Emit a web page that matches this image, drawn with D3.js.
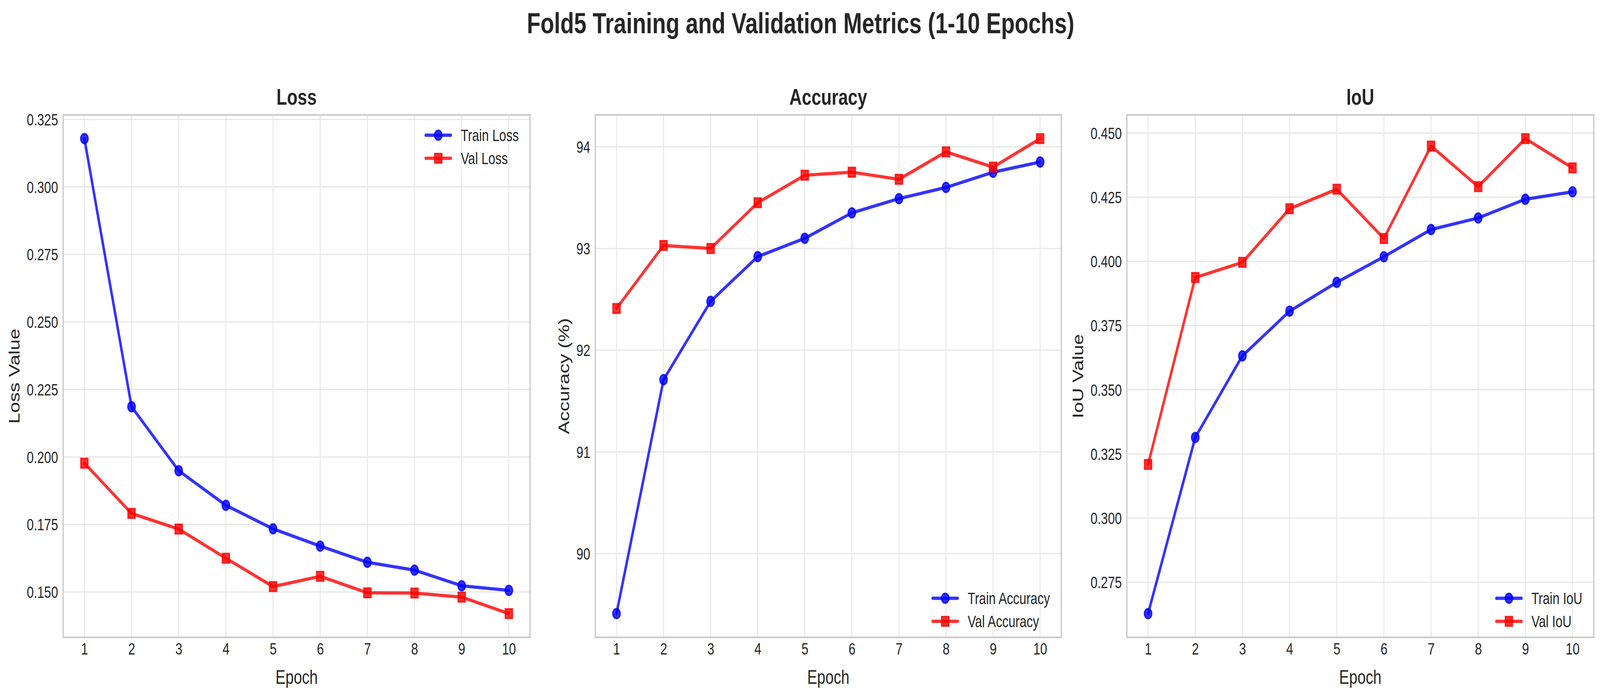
<!DOCTYPE html>
<html><head><meta charset="utf-8">
<script src="https://cdn.jsdelivr.net/npm/d3@7"></script>
<style>
html,body{margin:0;padding:0;background:#fff;width:100%;height:100%;overflow:hidden}
#chart{display:block;width:100vw;height:100vh}
svg text{font-family:"Liberation Sans",Arial,"DejaVu Sans",sans-serif;fill:#262626}
</style>
</head><body>
<svg id="chart" viewBox="0 0 5370 1776" preserveAspectRatio="none"></svg>
<script>
// ---------- data ----------
const epochs = [1,2,3,4,5,6,7,8,9,10];
const trainLoss = [0.3179,0.2186,0.1949,0.1821,0.1734,0.1670,0.1610,0.1581,0.1523,0.1506];
const valLoss   = [0.1977,0.1791,0.1733,0.1625,0.1520,0.1558,0.1497,0.1496,0.1481,0.1420];
const trainAcc  = [89.41,91.71,92.48,92.92,93.10,93.35,93.49,93.60,93.75,93.85];
const valAcc    = [92.41,93.03,93.00,93.45,93.72,93.75,93.68,93.95,93.80,94.08];
const trainIoU  = [0.2628,0.3314,0.3632,0.3806,0.3918,0.4018,0.4124,0.4169,0.4242,0.4271];
const valIoU    = [0.3209,0.3937,0.3996,0.4205,0.4281,0.4089,0.4449,0.4291,0.4478,0.4364];
const lossTicks = [0.150,0.175,0.200,0.225,0.250,0.275,0.300,0.325];
const accTicks  = [90,91,92,93,94];
const iouTicks  = [0.275,0.300,0.325,0.350,0.375,0.400,0.425,0.450];
const mainTitle = "Fold5 Training and Validation Metrics (1-10 Epochs)";

// ---------- layout ----------
const svg = d3.select("#chart");
const TOP = 294, BOTTOM = 1631;
const panels = [
  {title:"Loss", ylabel:"Loss Value", left:212, right:1779, ylabX:48, train:trainLoss, val:valLoss,
   names:["Train Loss","Val Loss"], ticks:lossTicks, fmt:d3.format(".3f"), legend:"top"},
  {title:"Accuracy", ylabel:"Accuracy (%)", left:1998, right:3562, ylabX:1892, train:trainAcc, val:valAcc,
   names:["Train Accuracy","Val Accuracy"], ticks:accTicks, fmt:d3.format("d"), legend:"bottom"},
  {title:"IoU", ylabel:"IoU Value", left:3782, right:5349, ylabX:3618, train:trainIoU, val:valIoU,
   names:["Train IoU","Val IoU"], ticks:iouTicks, fmt:d3.format(".3f"), legend:"bottom"}
];

const BLUE = "#0000ff", RED = "#ff0000";
const circleSym = d3.symbol().type(d3.symbolCircle).size(Math.PI*12.5*12.5);
const squareSym = d3.symbol().type(d3.symbolSquare).size(24*24);

svg.append("text").attr("x", 2687).attr("y", 85).attr("text-anchor","middle")
  .style("font-size","75px").style("font-weight","bold").text(mainTitle);

panels.forEach(p => {
  const all = p.train.concat(p.val);
  const mn = d3.min(all), mx = d3.max(all), r = mx - mn;
  const x = d3.scaleLinear().domain([1 - 0.45, 10 + 0.45]).range([p.left, p.right]);
  const y = d3.scaleLinear().domain([mn - 0.05*r, mx + 0.05*r]).range([BOTTOM, TOP]);
  const g = svg.append("g");

  // grid
  g.append("g").selectAll("line").data(epochs).join("line")
    .attr("x1", d=>x(d)).attr("x2", d=>x(d)).attr("y1", TOP).attr("y2", BOTTOM)
    .attr("stroke","#e8e8e8").attr("stroke-width",3.3);
  g.append("g").selectAll("line").data(p.ticks).join("line")
    .attr("x1", p.left).attr("x2", p.right).attr("y1", d=>y(d)).attr("y2", d=>y(d))
    .attr("stroke","#e8e8e8").attr("stroke-width",3.3);

  // axes (tick labels via d3 axes)
  const xAxis = g.append("g").attr("transform",`translate(0,${BOTTOM})`)
    .call(d3.axisBottom(x).tickValues(epochs).tickSize(0).tickPadding(44).tickFormat(d3.format("d")));
  const yAxis = g.append("g").attr("transform",`translate(${p.left},0)`)
    .call(d3.axisLeft(y).tickValues(p.ticks).tickSize(0).tickPadding(17).tickFormat(p.fmt));
  [xAxis, yAxis].forEach(a => {
    a.select(".domain").remove();
    a.selectAll("text").style("font-size","42px").attr("fill","#262626");
  });
  xAxis.selectAll("text").attr("dy", null).attr("y", 44);
  yAxis.selectAll("text").attr("dy","0.35em");

  // frame
  g.append("rect").attr("x",p.left).attr("y",TOP).attr("width",p.right-p.left).attr("height",BOTTOM-TOP)
    .attr("fill","none").attr("stroke","#cccccc").attr("stroke-width",4.5);

  // titles & labels
  g.append("text").attr("x",(p.left+p.right)/2).attr("y",268).attr("text-anchor","middle")
    .style("font-size","58px").style("font-weight","bold").text(p.title);
  g.append("text").attr("x",(p.left+p.right)/2).attr("y",1750).attr("text-anchor","middle")
    .style("font-size","50px").text("Epoch");
  g.append("text").attr("transform",`translate(${p.ylabX+18},${(TOP+BOTTOM)/2}) rotate(-90)`)
    .attr("text-anchor","middle").style("font-size","50px").text(p.ylabel);

  // series
  const line = d3.line().x((d,i)=>x(epochs[i])).y(d=>y(d));
  const series = [
    {vals:p.train, color:BLUE, sym:circleSym, name:p.names[0]},
    {vals:p.val, color:RED, sym:squareSym, name:p.names[1]}
  ];
  series.forEach(s => {
    const sg = g.append("g");
    sg.append("path").attr("d", line(s.vals)).attr("fill","none").attr("stroke",s.color)
      .attr("stroke-opacity",0.8).attr("stroke-width",8.3).attr("stroke-linejoin","round").attr("stroke-linecap","round");
    sg.selectAll("path.m").data(s.vals).join("path").attr("class","m")
      .attr("d", s.sym).attr("transform",(d,i)=>`translate(${x(epochs[i])},${y(d)})`)
      .attr("fill",s.color).attr("fill-opacity",0.8).attr("stroke",s.color).attr("stroke-opacity",0.8).attr("stroke-width",4.2);
  });

  // legend
  const rowY = p.legend === "top" ? [346, 405] : [1531, 1590];
  const lg = g.append("g");
  series.forEach((s, k) => {
    const t = lg.append("text").attr("y", rowY[k] + 15).style("font-size","42px").text(s.name);
    s.t = t;
  });
  const maxW = d3.max(series, s => s.t.node().getComputedTextLength());
  const textX = p.right - 38 - maxW;
  series.forEach((s, k) => {
    s.t.attr("x", textX);
    const x1 = textX - 33.6 - 84, x2 = textX - 33.6;
    lg.append("line").attr("x1",x1).attr("x2",x2).attr("y1",rowY[k]).attr("y2",rowY[k])
      .attr("stroke",s.color).attr("stroke-opacity",0.8).attr("stroke-width",8.3).attr("stroke-linecap","round");
    lg.append("path").attr("d", s.sym).attr("transform",`translate(${(x1+x2)/2},${rowY[k]})`)
      .attr("fill",s.color).attr("fill-opacity",0.8).attr("stroke",s.color).attr("stroke-opacity",0.8).attr("stroke-width",4.2);
  });
});
</script>
</body></html>
